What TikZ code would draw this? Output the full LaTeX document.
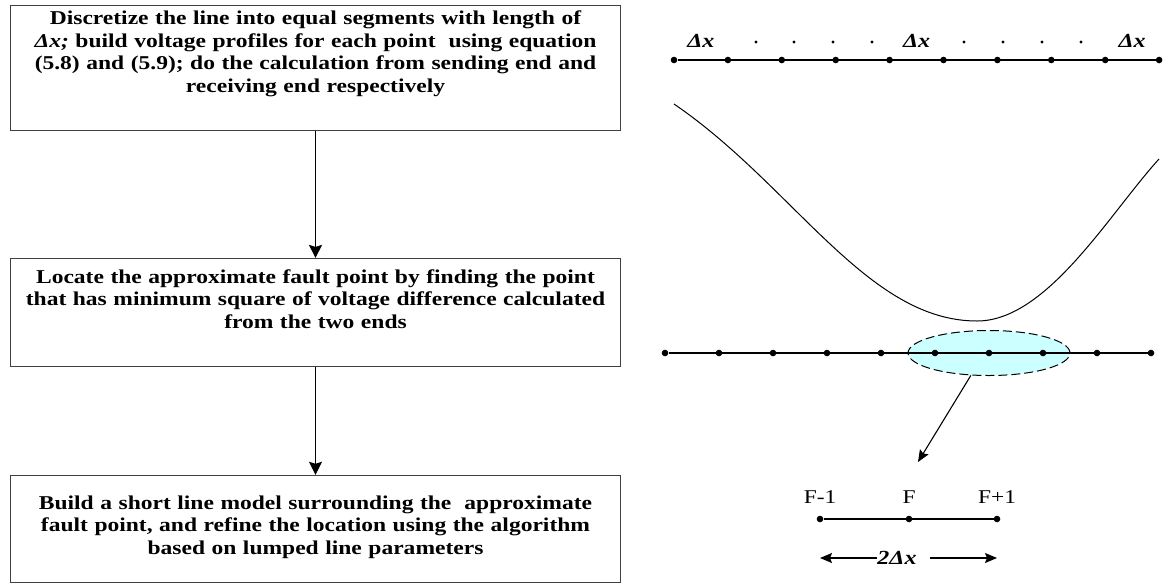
\documentclass[tikz,border=0pt]{standalone}
\usepackage{fontspec}
\setmainfont{Liberation Serif}[FakeStretch=1.2]
\usetikzlibrary{arrows.meta, positioning, shapes.geometric, backgrounds}
\definecolor{boxgray}{RGB}{64,64,64}
\definecolor{zonecyan}{RGB}{204,255,255}
\tikzset{
    stepbox/.style={rectangle, draw=boxgray, line width=0.9pt, text width=600pt, align=center, inner xsep=5pt, inner ysep=0pt, font=\fontsize{19.6}{22.6}\selectfont\bfseries},
    flowarrow/.style={-{Stealth[length=13pt, width=13pt, inset=2pt]}, line width=1.7pt},
    thinarrow/.style={-{Stealth[length=12pt, width=10pt, inset=2pt]}, line width=1.1pt},
    segdot/.style={circle, fill, inner sep=0pt, minimum size=6.6pt},
    gapdot/.style={circle, fill, inner sep=0pt, minimum size=3.4pt},
    seglabel/.style={font=\fontsize{20}{22}\selectfont\bfseries\itshape},
    ptlabel/.style={font=\fontsize{19.5}{22}\selectfont, text depth=0pt},
    faultzone/.style={ellipse, draw, fill=zonecyan, dash pattern=on 9pt off 4pt, line width=1pt, minimum width=162pt, minimum height=45pt}
}

\begin{document}
\begin{tikzpicture}[x=1pt, y=-1pt]
\useasboundingbox (0,0) rectangle (1174,582);

\node[stepbox, anchor=north, text height=19pt, text depth=106pt] (discretize) at (315.5,5) {Discretize the line into equal segments with length of\\ \textit{Δx;} build voltage profiles for each point\ \ using equation\\ (5.8) and (5.9); do the calculation from sending end and\\ receiving end respectively};
\node[stepbox, below=127pt of discretize, text height=25pt, text depth=83pt] (locate) {Locate the approximate fault point by finding the point\\ that has minimum square of voltage difference calculated\\ from the two ends};
\node[stepbox, below=108pt of locate, text height=34pt, text depth=73pt] (refine) {Build a short line model surrounding the\ \ approximate\\ fault point, and refine the location using the algorithm\\ based on lumped line parameters};

\draw[flowarrow] (discretize) -- (locate);
\draw[flowarrow] (locate) -- (refine);

\foreach \i in {1,...,10}
    \node[segdot] (t\i) at ({674+53.9*(\i-1)},60) {};
\draw[line width=1.1pt] (t1) -- (t10);
\path (t1) -- node[seglabel, above=9pt] (dxa) {Δx} (t2);
\path (t5) -- node[seglabel, above=9pt] (dxb) {Δx} (t6);
\path (t9) -- node[seglabel, above=9pt] (dxc) {Δx} (t10);
\foreach \x [count=\k] in {756,794,833,872,964,1003,1042,1081}
    \node[gapdot] (g\k) at (\x,42) {};

\draw[line width=1pt] (674,104) .. controls (794,186) and (867,321) .. (977,321)
    .. controls (1047,321) and (1109,214) .. (1159,159);

\foreach \i in {1,...,10}
    \node[segdot] (b\i) at ({665+54*(\i-1)},353) {};
\draw[line width=1.1pt] (b1) -- (b10);
\begin{scope}[on background layer]
    \node[faultzone] (zone) at (b7) {};
\end{scope}

\coordinate (aim) at (918,462);
\draw[thinarrow] (zone.231) -- (aim);

\node[segdot] (c1) at (820,519) {};
\node[segdot] (c2) at (909,519) {};
\node[segdot] (c3) at (997,519) {};
\draw[line width=1.1pt] (c1) -- (c3);
\node[ptlabel, above=8pt of c1] (fm) {F-1};
\node[ptlabel, above=8pt of c2] (f) {F};
\node[ptlabel, above=8pt of c3] (fp) {F+1};

\node[seglabel, inner sep=0pt] (span) at (897,558) {2Δx};
\draw[thinarrow] (span.west) -- (span.west -| c1);
\draw[thinarrow] ([xshift=13pt]span.east) -- (span.east -| c3);

\end{tikzpicture}
\end{document}
